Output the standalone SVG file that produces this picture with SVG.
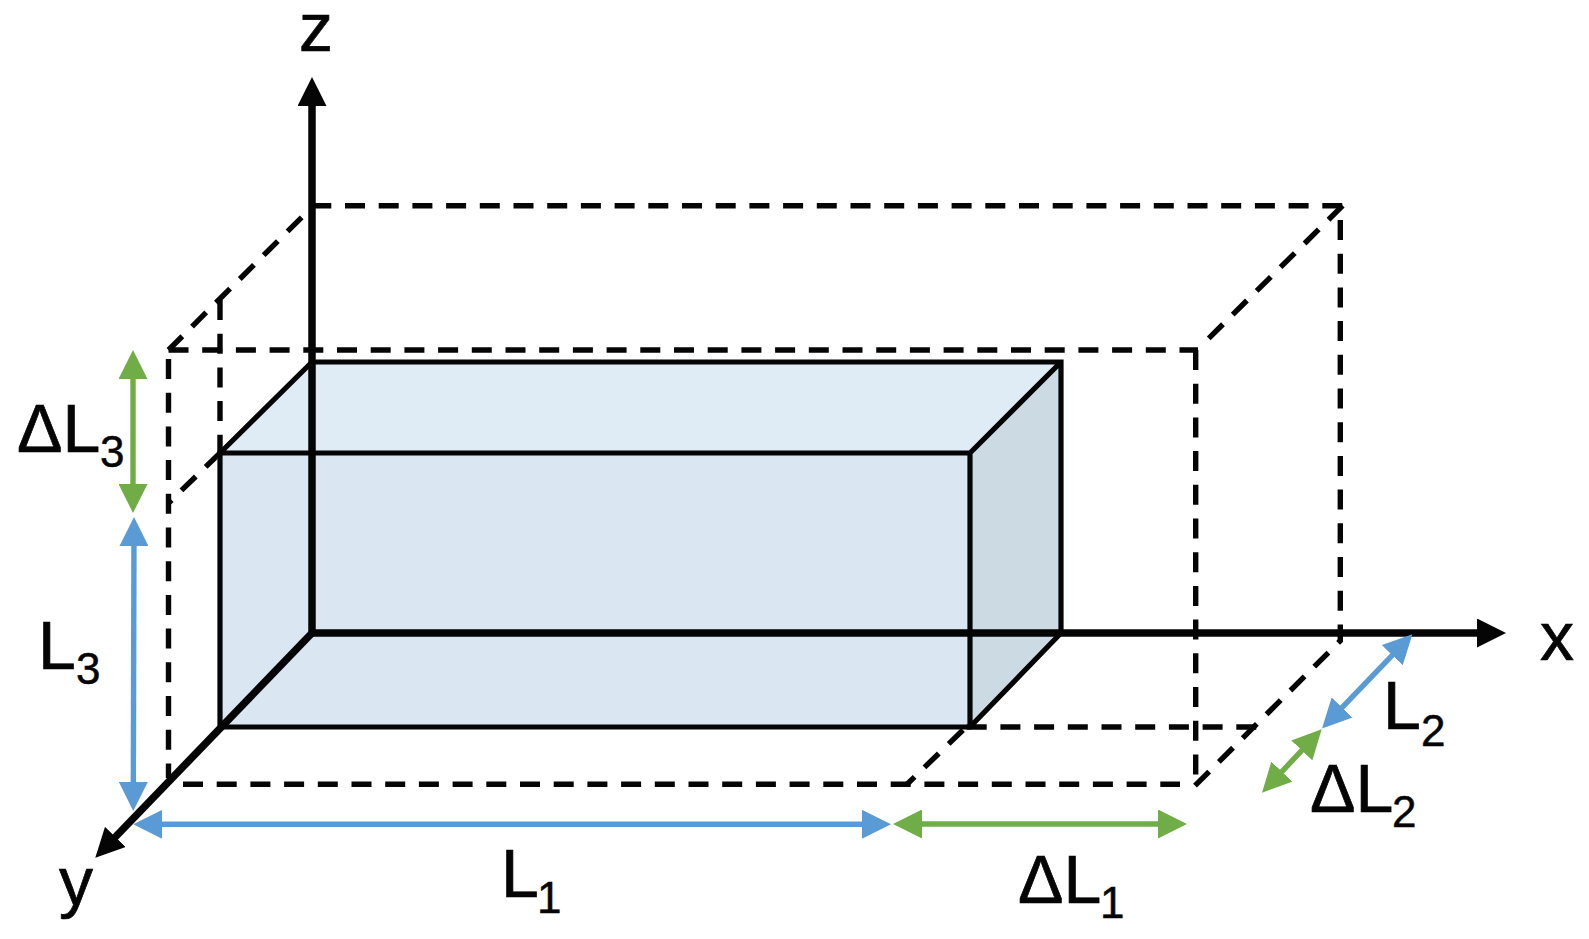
<svg xmlns="http://www.w3.org/2000/svg" width="1589" height="939" viewBox="0 0 1589 939">
<style>
.edge{fill:none;stroke:#050505;stroke-width:5.2;stroke-linejoin:miter}
.dash{fill:none;stroke:#050505;stroke-width:5.4;stroke-dasharray:20 13.7}
.axis{fill:none;stroke:#050505;stroke-width:7.5}
.blue{fill:none;stroke:#5B9BD5;stroke-width:5.4}
.green{fill:none;stroke:#70AD47;stroke-width:5.4}
text{font-family:"Liberation Sans",Arial,sans-serif;font-size:68px;fill:#050505;stroke:#050505;stroke-width:.7}
.sub{font-size:44px;stroke-width:.5}
</style>
<defs>
<marker id="hk" markerUnits="userSpaceOnUse" markerWidth="29" markerHeight="29" refX="14" refY="14.5" orient="auto-start-reverse"><path d="M0,0L29,14.5L0,29Z" fill="#050505"/></marker>
<marker id="hb" markerUnits="userSpaceOnUse" markerWidth="29" markerHeight="29" refX="14" refY="14.5" orient="auto-start-reverse"><path d="M0,0L29,14.5L0,29Z" fill="#5B9BD5"/></marker>
<marker id="hg" markerUnits="userSpaceOnUse" markerWidth="29" markerHeight="29" refX="14" refY="14.5" orient="auto-start-reverse"><path d="M0,0L29,14.5L0,29Z" fill="#70AD47"/></marker>
</defs>
<rect width="1589" height="939" fill="#fff"/>
<g id="box">
<path d="M312,362H1061L970,453H220Z" fill="#DFEBF5"/>
<path d="M220,453H970V727H220Z" fill="#DAE7F2"/>
<path d="M970,453L1061,362V633L970,727Z" fill="#CCDAE4"/>
</g>
<g id="connectors">
<path class="dash" d="M311.3,205.7H1343"/>
<path class="dash" d="M1340.3,220V642"/>
<path class="dash" d="M168.5,350H1198"/>
<path class="dash" d="M1195.7,350V776"/>
<path class="dash" d="M168.5,359V778"/>
<path class="dash" d="M183,784.3H1180"/>
<path class="dash" d="M301.7,217.3L168.5,350"/>
<path class="dash" d="M1342.7,205.7L1205,342"/>
<path class="dash" d="M220,300V453"/>
<path class="dash" d="M220,453L168.5,503"/>
<path class="dash" d="M966.7,727H1257"/>
<path class="dash" d="M963,730L907,784.3"/>
<path class="dash" d="M1195,785.7L1341,640"/>
<path class="edge" d="M312,362H1061V633L970,727H220V453H970V727M970,453L1061,362M220,453L312,362"/>
<path class="axis" d="M312,633V92" marker-end="url(#hk)"/>
<path class="axis" d="M312,633H1491" marker-end="url(#hk)"/>
<path class="axis" d="M312,633L105.7,847" marker-end="url(#hk)"/>
<path class="green" d="M133,365V498" marker-start="url(#hg)" marker-end="url(#hg)"/>
<path class="blue" d="M134,532L133.3,796" marker-start="url(#hb)" marker-end="url(#hb)"/>
<path class="blue" d="M148.3,824.3H876" marker-start="url(#hb)" marker-end="url(#hb)"/>
<path class="green" d="M908,824H1172" marker-start="url(#hg)" marker-end="url(#hg)"/>
<path class="blue" d="M1402,645.1L1332.4,717.6" marker-start="url(#hb)" marker-end="url(#hb)"/>
<path class="green" d="M1311.4,740.2L1272.3,781.8" marker-start="url(#hg)" marker-end="url(#hg)"/>
</g>
<g id="labels">
<text x="299" y="51">z</text>
<text x="1540" y="660">x</text>
<text x="59" y="905">y</text>
<text x="501" y="897">L<tspan class="sub" x="537" y="913">1</tspan></text>
<text x="1018" y="903">ΔL<tspan class="sub" x="1100" y="918">1</tspan></text>
<text x="1383" y="729">L<tspan class="sub" x="1421" y="746">2</tspan></text>
<text x="1310" y="812">ΔL<tspan class="sub" x="1392" y="827">2</tspan></text>
<text x="38" y="669">L<tspan class="sub" x="76" y="684">3</tspan></text>
<text x="17" y="452">ΔL<tspan class="sub" x="100" y="467">3</tspan></text>
</g>
</svg>
